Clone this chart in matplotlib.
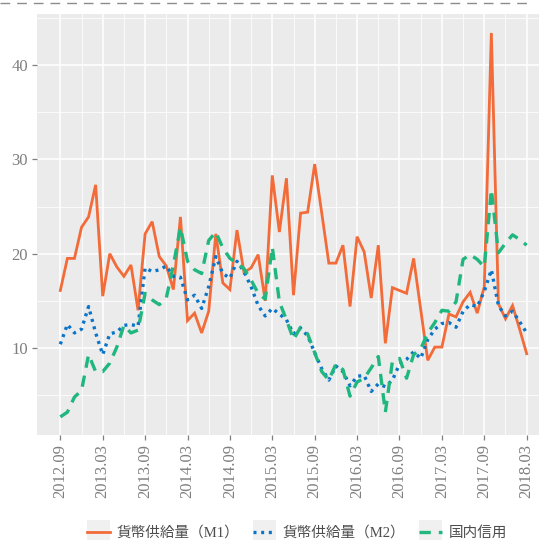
import matplotlib
matplotlib.use("Agg")
import matplotlib.pyplot as plt
from matplotlib.lines import Line2D
from matplotlib.patches import Rectangle
from matplotlib.legend_handler import HandlerLine2D

# ---- data ----
tick_labels = ["2012.09", "2013.03", "2013.09", "2014.03", "2014.09", "2015.03",
               "2015.09", "2016.03", "2016.09", "2017.03", "2017.09", "2018.03"]

m1 = [16.1, 19.5, 19.5, 22.8, 23.9, 27.3, 15.5, 20.0, 18.6, 17.6, 18.8, 14.0,
      22.1, 23.4, 19.7, 18.7, 16.2, 23.9, 12.9, 13.7, 11.6, 13.9, 22.1, 16.9,
      16.2, 22.5, 18.0, 18.5, 19.9, 15.0, 28.3, 22.3, 28.0, 15.6, 24.3, 24.4,
      29.5, 24.3, 19.0, 19.0, 20.9, 14.4, 21.8, 20.2, 15.3, 20.9, 10.5, 16.4,
      16.1, 15.8, 19.5, 14.1, 8.7, 10.1, 10.1, 13.6, 13.3, 14.9, 15.9, 13.7,
      16.5, 43.4, 14.7, 13.1, 14.5, 12.0, 9.4]

m2 = [10.4, 12.5, 11.6, 12.0, 14.4, 11.6, 9.3, 11.5, 11.7, 12.4, 12.5, 12.3,
      18.5, 18.1, 18.3, 18.7, 17.6, 17.5, 15.1, 15.6, 14.2, 16.5, 19.7, 17.9,
      17.4, 19.2, 18.1, 16.5, 14.5, 13.4, 14.2, 13.6, 13.0, 11.5, 12.1, 11.3,
      9.5, 7.8, 6.6, 8.1, 7.5, 6.0, 7.0, 7.1, 5.4, 6.2, 5.9, 6.6,
      8.3, 8.8, 9.6, 8.9, 10.9, 12.0, 12.6, 12.7, 12.2, 13.9, 14.6, 14.4,
      16.0, 18.3, 14.5, 13.4, 13.9, 12.8, 11.6]

credit = [2.7, 3.2, 4.8, 5.5, 9.3, 7.5, 7.5, 8.4, 10.1, 12.4, 11.6, 11.9,
          15.8, 15.1, 14.6, 15.3, 18.8, 22.8, 19.2, 18.3, 17.9, 21.4, 22.3, 20.6,
          19.5, 19.0, 18.4, 17.2, 15.8, 15.2, 20.7, 14.9, 13.0, 10.9, 12.2, 11.5,
          9.5, 7.5, 6.6, 8.3, 7.7, 4.9, 6.4, 6.8, 7.9, 9.1, 3.2, 8.6,
          8.9, 6.8, 9.3, 9.9, 11.6, 12.7, 14.0, 13.9, 14.9, 19.4, 19.9, 19.4,
          18.6, 26.8, 20.1, 21.1, 22.0, 21.5, 20.9]

series_names = ["貨幣供給量（M1）", "貨幣供給量（M2）", "国内信用"]

# ---- style ----
colors = ["#F26B38", "#0A74C8", "#20B77F"]
serif = ["Liberation Serif", "Noto Sans CJK JP", "DejaVu Sans"]
cjk = ["Liberation Serif", "Noto Sans CJK JP", "DejaVu Sans"]

fig = plt.figure(figsize=(5.39, 5.40), dpi=100)
fig.patch.set_facecolor("white")
W, H = 539, 540
ax = fig.add_axes([37 / W, (540 - 435) / H, (550 - 37) / W, (435 - 14) / H])
ax.set_facecolor("#EBEBEB")

x = list(range(len(m1)))
ax.plot(x, m1, color=colors[0], lw=2.0, solid_joinstyle="miter", zorder=3)
ax.plot(x, m2, color=colors[1], lw=2.4, linestyle=(0, (0.9, 1.4)),
        dash_capstyle="butt", zorder=3)
ax.plot(x, credit, color=colors[2], lw=2.4, linestyle=(0, (3.4, 2.4)),
        dash_capstyle="butt", zorder=3)

ax.set_xlim(-3.3, 69.3)
ax.set_ylim(0.78, 45.41)

xt = list(range(0, len(m1), 6))
ax.set_xticks(xt)
ax.set_xticklabels(tick_labels, rotation=90, fontfamily=serif, fontsize=12,
                   color="#7F7F7F")
ax.set_xticks([v + 3 for v in xt[:-1]] + [69], minor=True)
ax.set_yticks([10, 20, 30, 40])
ax.set_yticklabels(["10", "20", "30", "40"], fontfamily=serif, fontsize=12,
                   color="#7F7F7F")
ax.set_yticks([5, 15, 25, 35, 45], minor=True)

ax.grid(True, which="major", color="white", lw=1.1)
ax.grid(True, which="minor", color="white", lw=0.55)
ax.set_axisbelow(True)
ax.tick_params(which="major", length=3.5, width=0.9, color="#7F7F7F", pad=3)
ax.tick_params(which="minor", length=0)
for s in ax.spines.values():
    s.set_visible(False)

# dashed line at top of figure
fig.add_artist(Line2D([0, 532 / W], [1 - 2.5 / H, 1 - 2.5 / H], transform=fig.transFigure,
                      color="#8C8C8C", lw=1.0, linestyle=(0, (7, 5))))


class KeyHandler(HandlerLine2D):
    def create_artists(self, legend, orig_handle, xdescent, ydescent, width,
                       height, fontsize, trans):
        arts = super().create_artists(legend, orig_handle, xdescent, ydescent,
                                      width, height, fontsize, trans)
        side = width
        cy = height / 2 - ydescent
        rect = Rectangle((-xdescent, cy - side / 2), side, side,
                         facecolor="#F0F0F0", edgecolor="none", transform=trans)
        return [rect] + list(arts)


handles = [Line2D([0], [0], color=colors[0], lw=2.0),
           Line2D([0], [0], color=colors[1], lw=2.4, linestyle=(0, (0.9, 1.4)),
                  dash_capstyle="butt"),
           Line2D([0], [0], color=colors[2], lw=2.4, linestyle=(0, (3.4, 2.4)),
                  dash_capstyle="butt")]
leg = fig.legend(handles, series_names, loc="center", bbox_to_anchor=(297 / W, 1 - 533 / H),
                 ncol=3, frameon=False, handlelength=1.6, handletextpad=0.45,
                 columnspacing=0.9, prop={"family": cjk, "size": 10.5},
                 handler_map={Line2D: KeyHandler()})
for t in leg.get_texts():
    t.set_color("#4D4D4D")

fig.savefig("out.png", dpi=100)
